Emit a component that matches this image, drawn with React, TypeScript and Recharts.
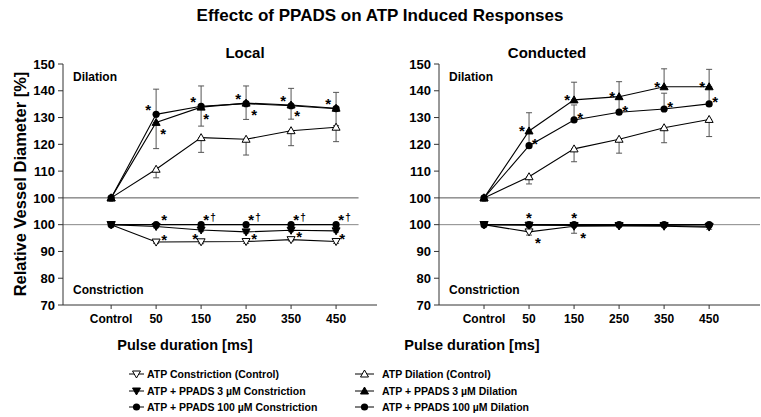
import React from "react";
import { LineChart, Line, XAxis, YAxis, ErrorBar, LabelList, ReferenceLine } from "recharts";

const FONT = "'Liberation Sans', Arial, sans-serif";

const categories = ["Control", "50", "150", "250", "350", "450"];
// y axis is broken: constriction values are drawn 10 units lower
const yTicks = [60, 70, 80, 90, 100, 110, 120, 130, 140, 150];
const CON_SHIFT = 10;

type Series = { values: number[]; errLow: number[]; errHigh: number[]; stars: string[] };

// Local
const localDilCtrl: Series = {
  values: [100, 110.7, 122.5, 121.9, 125.1, 126.4],
  errLow: [0, 3.2, 5.5, 5.9, 5.6, 5.4],
  errHigh: [0, 0, 0, 0, 0, 0],
  stars: ["", "", "", "", "", ""],
};
const localDil3: Series = {
  values: [100, 128.2, 133.9, 135.4, 134.7, 133.5],
  errLow: [0, 9.8, 7.1, 6.1, 5.3, 6.5],
  errHigh: [0, 0, 0, 0, 0, 0],
  stars: ["", "*", "*", "*", "*", ""],
};
const localDil100: Series = {
  values: [100, 131.2, 134.2, 135.2, 134.4, 133.3],
  errLow: [0, 0, 0, 0, 0, 0],
  errHigh: [0, 9.4, 7.6, 6.6, 6.5, 6.1],
  stars: ["", "*", "*", "*", "*", "*"],
};
const localConCtrl: Series = {
  values: [100, 93.5, 93.6, 93.7, 94.4, 93.7],
  errLow: [0, 0.5, 0.7, 0.7, 0.5, 0.7],
  errHigh: [0, 0, 0, 0, 0, 0],
  stars: ["", "*", "*", "*", "*", "*"],
};
const localCon3: Series = {
  values: [100, 99.3, 98.0, 97.3, 97.9, 97.7],
  errLow: [0, 0.5, 0.6, 0.5, 0.5, 0.5],
  errHigh: [0, 0, 0, 0, 0, 0],
  stars: ["", "", "", "", "", ""],
};
const localCon100: Series = {
  values: [100, 100, 100, 100, 100, 100],
  errLow: [0, 0, 0, 0, 0, 0],
  errHigh: [0, 0, 0, 0, 0, 0],
  stars: ["", "*", "*†", "*†", "*†", "*†"],
};

// Conducted
const condDilCtrl: Series = {
  values: [100, 107.9, 118.3, 121.9, 126.2, 129.3],
  errLow: [0, 2.7, 4.8, 5.2, 5.6, 6.4],
  errHigh: [0, 0, 0, 0, 0, 0],
  stars: ["", "", "", "", "", ""],
};
const condDil3: Series = {
  values: [100, 125.0, 136.6, 137.8, 141.5, 141.5],
  errLow: [0, 0, 0, 0, 0, 0],
  errHigh: [0, 6.8, 6.6, 5.6, 6.7, 6.5],
  stars: ["", "*", "*", "*", "*", "*"],
};
const condDil100: Series = {
  values: [100, 119.5, 129.1, 132.0, 133.2, 135.1],
  errLow: [0, 0, 0, 0, 0, 0],
  errHigh: [0, 5.3, 5.6, 5.5, 5.9, 6.2],
  stars: ["", "*", "*", "*", "*", "*"],
};
const condConCtrl: Series = {
  values: [100, 97.3, 99.4, 99.5, 99.4, 99.1],
  errLow: [0, 1.2, 2.6, 0.3, 0.3, 0.8],
  errHigh: [0, 0, 0, 0, 0, 0],
  stars: ["", "*", "*", "", "", ""],
};
const condCon3: Series = {
  values: [100, 99.8, 99.7, 99.7, 99.7, 99.4],
  errLow: [0, 0, 0, 0, 0, 0],
  errHigh: [0, 0, 0, 0, 0, 0],
  stars: ["", "", "", "", "", ""],
};
const condCon100: Series = {
  values: [100, 100, 100, 100, 100, 100],
  errLow: [0, 0, 0, 0, 0, 0],
  errHigh: [0, 0, 0, 0, 0, 0],
  stars: ["", "*", "*", "", "", ""],
};

const legendLeft = ["ATP Constriction (Control)", "ATP + PPADS 3 \u00b5M Constriction", "ATP + PPADS 100 \u00b5M Constriction"];
const legendRight = ["ATP Dilation (Control)", "ATP + PPADS 3 \u00b5M Dilation", "ATP + PPADS 100 \u00b5M Dilation"];

type Shape = "triUpOpen" | "triUp" | "circle" | "triDownOpen" | "triDown";

function Marker({ cx, cy, shape }: { cx: number; cy: number; shape: Shape }) {
  if (shape === "circle") return <circle cx={cx} cy={cy} r={3.6} fill="#000" />;
  const up = shape === "triUp" || shape === "triUpOpen";
  const fill = shape === "triUp" || shape === "triDown" ? "#000" : "#fff";
  const pts = up
    ? `${cx},${cy - 4} ${cx + 4},${cy + 3} ${cx - 4},${cy + 3}`
    : `${cx - 4},${cy - 3} ${cx + 4},${cy - 3} ${cx},${cy + 4}`;
  return <polygon points={pts} fill={fill} stroke="#000" strokeWidth={1} />;
}

const dotFn = (shape: Shape) => (props: any) => (
  <Marker key={`d-${props.index}`} cx={props.cx} cy={props.cy} shape={shape} />
);

const starFn = (dx: number[], dy: number) => (props: any) => {
  const vb = props.viewBox || {};
  const px = vb.x ?? props.x;
  const py = vb.y ?? props.y;
  const v: string = props.value || "";
  if (!v || px == null) return null;
  const i = props.index ?? 0;
  const sx = px + dx[i];
  const sy = py + dy + 8.5;
  return (
    <g key={`s-${i}`}>
      <text x={sx} y={sy} textAnchor="middle" fontSize={15} fontWeight="bold" fontFamily={FONT} fill="#000">
        *
      </text>
      {v.includes("†") && (
        <text x={sx + 7} y={sy - 4} textAnchor="middle" fontSize={10} fontWeight="bold" fontFamily={FONT} fill="#000">
          †
        </text>
      )}
    </g>
  );
};

type SeriesDef = { key: string; s: Series; shape: Shape; shift: number; dx: number[]; dy: number };

function buildRows(defs: SeriesDef[]) {
  return categories.map((c, i) => {
    const row: any = { x: i + 1, name: c };
    defs.forEach((d) => {
      row[d.key] = d.s.values[i] - d.shift;
      row[d.key + "Err"] = [d.s.errLow[i], d.s.errHigh[i]];
      row[d.key + "Star"] = d.s.stars[i];
    });
    return row;
  });
}

const tickStyle = { fontSize: 13, fontWeight: "bold", fill: "#000", fontFamily: FONT };

function Panel({ defs, width, yAxisWidth, rightMargin, domain, refEnd }: {
  defs: SeriesDef[]; width: number; yAxisWidth: number; rightMargin: number; domain: [number, number]; refEnd: number;
}) {
  const rows = buildRows(defs);
  return (
    <LineChart width={width} height={335} data={rows} margin={{ top: 64, right: rightMargin, bottom: 5, left: 0 }}>
      <XAxis
        type="number"
        dataKey="x"
        domain={domain}
        ticks={[1, 2, 3, 4, 5, 6]}
        tickFormatter={(v: number) => categories[v - 1]}
        allowDataOverflow
        height={25}
        tickSize={4}
        tickMargin={5}
        stroke="#333"
        tick={{ ...tickStyle, fontSize: 12 }}
      />
      <YAxis
        type="number"
        domain={[60, 150]}
        ticks={yTicks}
        interval={0}
        width={yAxisWidth}
        tickSize={5}
        tickMargin={3}
        stroke="#333"
        tick={tickStyle}
        tickFormatter={(v: number) => String(v < 100 ? v + CON_SHIFT : v)}
      />
      <ReferenceLine segment={[{ x: domain[0], y: 100 }, { x: refEnd, y: 100 }]} stroke="#555" strokeWidth={1} />
      <ReferenceLine segment={[{ x: domain[0], y: 100 - CON_SHIFT }, { x: refEnd, y: 100 - CON_SHIFT }]} stroke="#888" strokeWidth={1} />
      {defs.map((d) => (
        <Line
          key={d.key}
          dataKey={d.key}
          stroke="#000"
          strokeWidth={1.1}
          dot={dotFn(d.shape)}
          activeDot={false}
          isAnimationActive={false}
        >
          <ErrorBar dataKey={d.key + "Err"} width={3} stroke="#555" strokeWidth={1} direction="y" />
          <LabelList dataKey={d.key + "Star"} content={starFn(d.dx, d.dy)} />
        </Line>
      ))}
    </LineChart>
  );
}

const same = (v: number) => [v, v, v, v, v, v];

const localDefs: SeriesDef[] = [
  { key: "dilCtrl", s: localDilCtrl, shape: "triUpOpen", shift: 0, dx: same(0), dy: 0 },
  { key: "dil3", s: localDil3, shape: "triUp", shift: 0, dx: [0, 7, 5, 8, 6, 0], dy: 8 },
  { key: "dil100", s: localDil100, shape: "circle", shift: 0, dx: same(-8), dy: -8 },
  { key: "conCtrl", s: localConCtrl, shape: "triDownOpen", shift: CON_SHIFT, dx: [0, 8, -6, 8, 8, 6], dy: -6 },
  { key: "con3", s: localCon3, shape: "triDown", shift: CON_SHIFT, dx: same(0), dy: 0 },
  { key: "con100", s: localCon100, shape: "circle", shift: CON_SHIFT, dx: [0, 8, 5, 5, 5, 5], dy: -8 },
];

const condDefs: SeriesDef[] = [
  { key: "dilCtrl", s: condDilCtrl, shape: "triUpOpen", shift: 0, dx: same(0), dy: 0 },
  { key: "dil3", s: condDil3, shape: "triUp", shift: 0, dx: same(-7), dy: -3 },
  { key: "dil100", s: condDil100, shape: "circle", shift: 0, dx: same(6), dy: -5 },
  { key: "conCtrl", s: condConCtrl, shape: "triDownOpen", shift: CON_SHIFT, dx: same(9), dy: 8 },
  { key: "con3", s: condCon3, shape: "triDown", shift: CON_SHIFT, dx: same(0), dy: 0 },
  { key: "con100", s: condCon100, shape: "circle", shift: CON_SHIFT, dx: same(0), dy: -10 },
];

const legendShapesLeft: Shape[] = ["triDownOpen", "triDown", "circle"];
const legendShapesRight: Shape[] = ["triUpOpen", "triUp", "circle"];
const legendRows = [374, 391, 407];

function Overlay() {
  const bold = { fontFamily: FONT, fontWeight: "bold" as const, fill: "#000" };
  return (
    <svg width={761} height={417} style={{ position: "absolute", left: 0, top: 0 }}>
      <text x={380} y={21} textAnchor="middle" fontSize={17} {...bold}>Effectc of PPADS on ATP Induced Responses</text>
      <text x={245} y={58} textAnchor="middle" fontSize={15} {...bold}>Local</text>
      <text x={547} y={58} textAnchor="middle" fontSize={15} {...bold}>Conducted</text>
      <text transform="translate(26,184) rotate(-90)" textAnchor="middle" fontSize={16.5} {...bold}>Relative Vessel Diameter [%]</text>
      <text x={73} y={81} fontSize={12} {...bold}>Dilation</text>
      <text x={73} y={294} fontSize={12} {...bold}>Constriction</text>
      <text x={449} y={81} fontSize={12} {...bold}>Dilation</text>
      <text x={449} y={294} fontSize={12} {...bold}>Constriction</text>
      <text x={185} y={350} textAnchor="middle" fontSize={14.5} {...bold}>Pulse duration [ms]</text>
      <text x={472} y={350} textAnchor="middle" fontSize={14.5} {...bold}>Pulse duration [ms]</text>
      {legendLeft.map((t, i) => (
        <g key={`ll-${i}`}>
          <line x1={129} x2={144} y1={legendRows[i]} y2={legendRows[i]} stroke="#000" strokeWidth={1} />
          <Marker cx={136.5} cy={legendRows[i]} shape={legendShapesLeft[i]} />
          <text x={147} y={legendRows[i] + 4} fontSize={10.5} {...bold}>{t}</text>
        </g>
      ))}
      {legendRight.map((t, i) => (
        <g key={`lr-${i}`}>
          <line x1={355} x2={374} y1={legendRows[i]} y2={legendRows[i]} stroke="#000" strokeWidth={1} />
          <Marker cx={364.5} cy={legendRows[i]} shape={legendShapesRight[i]} />
          <text x={382} y={legendRows[i] + 4} fontSize={10.5} {...bold}>{t}</text>
        </g>
      ))}
    </svg>
  );
}

export default function App() {
  return (
    <div style={{ position: "absolute", left: 0, top: 0, width: 761, height: 417, background: "#fff" }}>
      <Overlay />
      <div style={{ position: "absolute", left: 0, top: 0 }}>
        <Panel defs={localDefs} width={380} yAxisWidth={63} rightMargin={3} domain={[-0.07, 6.91]} refEnd={6.5} />
      </div>
      <div style={{ position: "absolute", left: 380, top: 0 }}>
        <Panel defs={condDefs} width={381} yAxisWidth={59} rightMargin={1} domain={[0, 7.13]} refEnd={7.13} />
      </div>
    </div>
  );
}
